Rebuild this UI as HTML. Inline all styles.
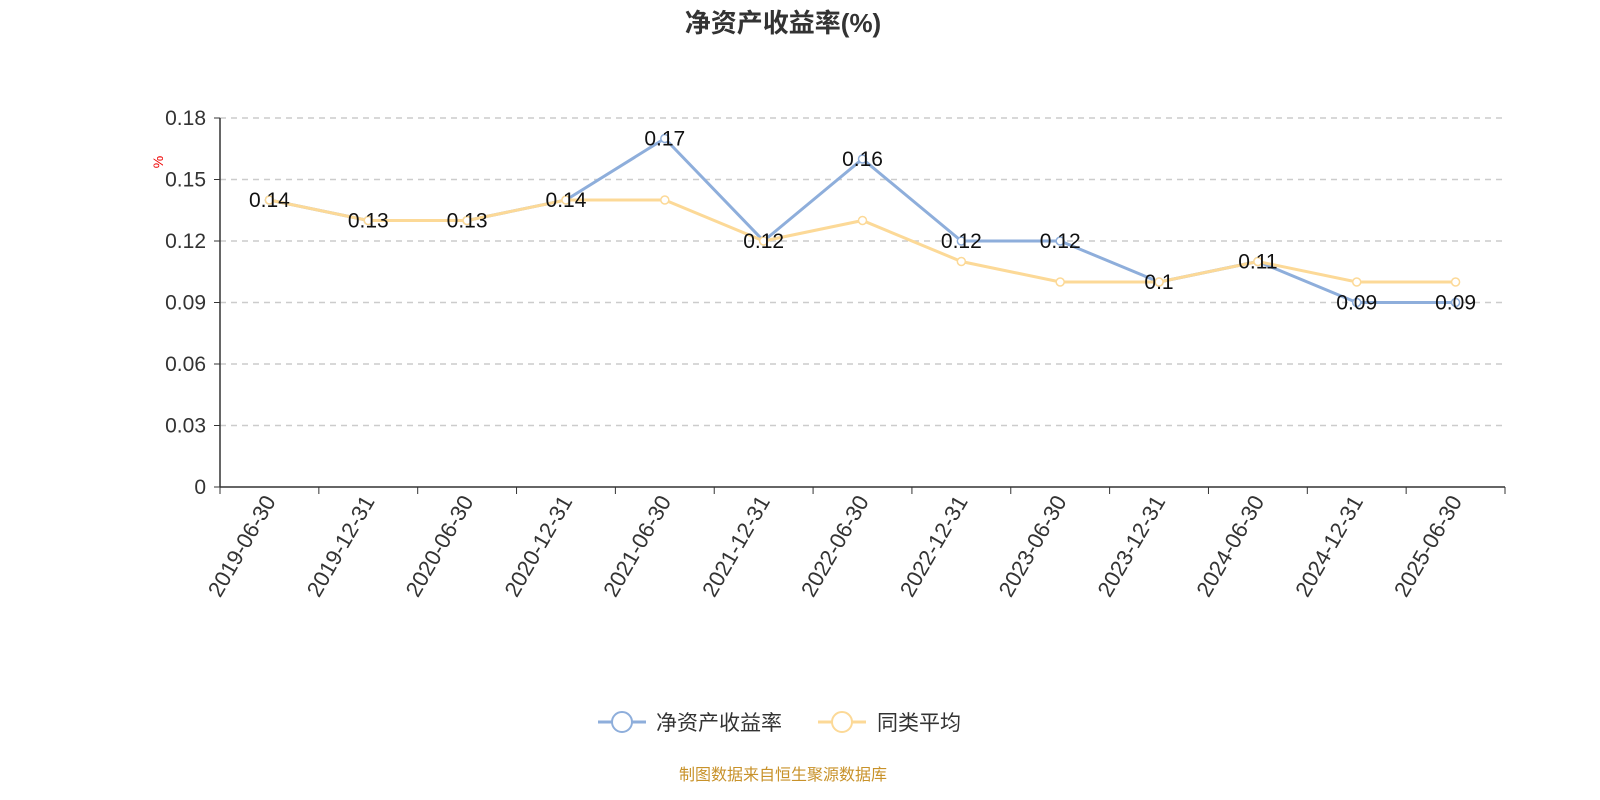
<!DOCTYPE html>
<html><head><meta charset="utf-8"><style>
body{margin:0;background:#fff;}
svg{display:block;font-family:"Liberation Sans","Noto Sans CJK SC",sans-serif;}
</style></head><body>
<svg id="c" width="1600" height="800">
<text x="783" y="32" text-anchor="middle" font-size="26" font-weight="bold" fill="#333">净资产收益率(%)</text>
<text x="0" y="0" transform="translate(163,162) rotate(-90)" text-anchor="middle" font-size="14" fill="#e00">%</text>
<g id="grid"></g>
<g id="axes"></g>
<g id="series"></g>
<g>
<g>
<line x1="598" y1="722" x2="646" y2="722" stroke="#8eaedb" stroke-width="3"/>
<circle cx="622" cy="722" r="10" fill="#fff" stroke="#8eaedb" stroke-width="2"/>
<text x="656" y="730" font-size="21" fill="#333">净资产收益率</text></g>
<g>
<line x1="818" y1="722" x2="866" y2="722" stroke="#fcd997" stroke-width="3"/>
<circle cx="842" cy="722" r="10" fill="#fff" stroke="#fcd997" stroke-width="2"/>
<text x="877" y="730" font-size="21" fill="#333">同类平均</text></g>
</g>
<text x="783" y="780" text-anchor="middle" font-size="16" fill="#c8922a">制图数据来自恒生聚源数据库</text>
</svg>
<script>
const categories=["2019-06-30","2019-12-31","2020-06-30","2020-12-31","2021-06-30","2021-12-31","2022-06-30","2022-12-31","2023-06-30","2023-12-31","2024-06-30","2024-12-31","2025-06-30"];
const roeValues=[0.14,0.13,0.13,0.14,0.17,0.12,0.16,0.12,0.12,0.10,0.11,0.09,0.09];
const avgValues=[0.14,0.13,0.13,0.14,0.14,0.12,0.13,0.11,0.10,0.10,0.11,0.10,0.10];
const yTicks=[0,0.03,0.06,0.09,0.12,0.15,0.18];
const roeLabels=["0.14","0.13","0.13","0.14","0.17","0.12","0.16","0.12","0.12","0.1","0.11","0.09","0.09"];

const NS="http://www.w3.org/2000/svg";
const L=220,R=1505,T=118,B=487,yMax=0.18;
const bw=(R-L)/categories.length;
const xs=i=>L+bw*(i+0.5);
const ys=v=>B-(v/yMax)*(B-T);
function mk(tag,attrs,parent,text){const e=document.createElementNS(NS,tag);for(const k in attrs)e.setAttribute(k,attrs[k]);if(text!==undefined)e.textContent=text;parent.appendChild(e);return e;}
const grid=document.getElementById('grid'),axes=document.getElementById('axes'),series=document.getElementById('series');
yTicks.forEach(t=>{
  const y=ys(t);
  if(t>0){const g=mk('line',{x1:L,x2:R,y1:y,y2:y,stroke:'#ccc','stroke-dasharray':'6,5','stroke-width':1.5},grid);
  
  }
  mk('line',{x1:L-6,x2:L,y1:y,y2:y,stroke:'#333'},axes);
  const tl=mk('text',{x:L-14,y:y+7,'text-anchor':'end','font-size':21,fill:'#333'},axes,String(t));
  
  
});
mk('line',{x1:L,x2:L,y1:T,y2:B,stroke:'#333','stroke-width':1.5},axes);
mk('line',{x1:L,x2:R,y1:B,y2:B,stroke:'#333','stroke-width':1.5},axes);
for(let i=0;i<=categories.length;i++){const x=L+bw*i;mk('line',{x1:x,x2:x,y1:B,y2:B+7,stroke:'#333'},axes);}
categories.forEach((c,i)=>{
  const x=xs(i);
  const t=mk('text',{transform:`translate(${x+7},${B+14}) rotate(-60)`,'text-anchor':'end','font-size':22,fill:'#333'},axes,c);
  
  
});
function drawLine(vals,color,name){
  const g=mk('g',{},series);
  
  
  mk('polyline',{points:vals.map((v,i)=>xs(i)+','+ys(v)).join(' '),fill:'none',stroke:color,'stroke-width':3},g);
  vals.forEach((v,i)=>{const p=mk('circle',{cx:xs(i),cy:ys(v),r:4,fill:'#fff',stroke:color,'stroke-width':1.5},g);
    
    });
}
drawLine(roeValues,'#8eaedb','roe-line');
drawLine(avgValues,'#fcd997','average-line');
roeValues.forEach((v,i)=>{
  const t=mk('text',{x:xs(i),y:ys(v)+7,'text-anchor':'middle','font-size':21,fill:'#111'},series,roeLabels[i]);
  
  
});
</script>
</body></html>
